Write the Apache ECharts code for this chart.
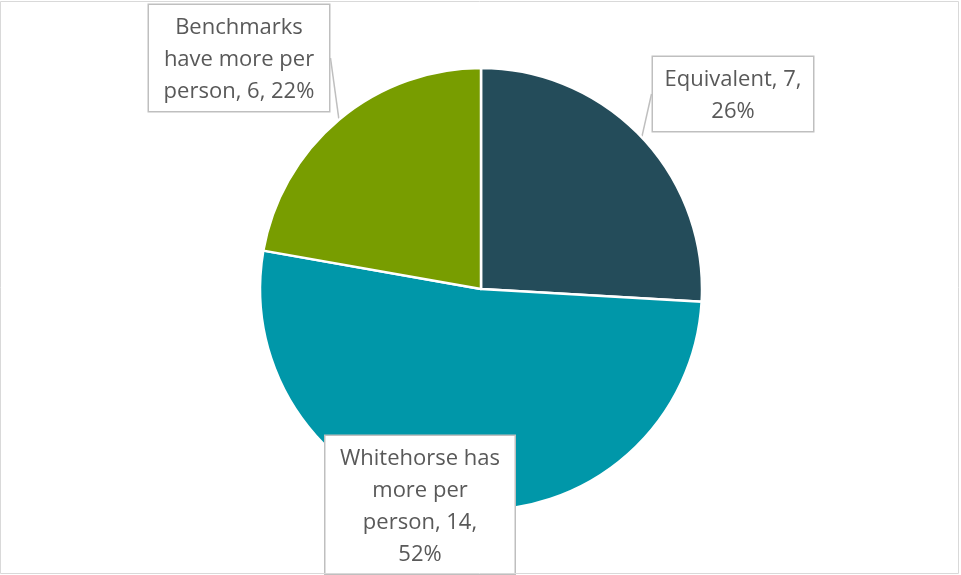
<!DOCTYPE html>
<html>
<head>
<meta charset="utf-8">
<script src="https://cdn.jsdelivr.net/npm/echarts@6/dist/echarts.min.js"></script>
<style>
  html, body { margin: 0; padding: 0; background: #fff; }
  #chart { width: 961px; height: 575px; }
</style>
</head>
<body>
<div id="chart"></div>
<script>
// Comparison of per-person counts: Whitehorse vs. benchmark communities
const categories = ['Equivalent', 'Whitehorse has more per person', 'Benchmarks have more per person'];
const counts = [7, 14, 6];
const sliceColors = ['#244C5A', '#0097A9', '#789D00'];

// Callout boxes: top-centre anchor, inner text width, and words per wrapped line
const calloutPlacement = [
  { x: 733, y: 57, width: 150, wordsPerLine: [2, 1], line: true },
  { x: 420, y: 436, width: 179, wordsPerLine: [2, 2, 2, 1], line: false },
  { x: 239, y: 5, width: 170, wordsPerLine: [1, 3, 3], line: true }
];

function wrapWords(text, counts) {
  const words = text.split(' ');
  const lines = [];
  let k = 0;
  counts.forEach(n => { lines.push(words.slice(k, k + n).join(' ')); k += n; });
  if (k < words.length) lines.push(words.slice(k).join(' '));
  return lines.join('\n');
}

const chart = echarts.init(document.getElementById('chart'), null, { renderer: 'canvas' });

const data = categories.map((name, i) => ({
  name: name,
  value: counts[i],
  itemStyle: { color: sliceColors[i] },
  labelLine: { show: calloutPlacement[i].line },
  label: { width: calloutPlacement[i].width }
}));

chart.setOption({
  animation: false,
  backgroundColor: '#fff',
  graphic: [{
    type: 'rect',
    silent: true,
    z: 100,
    shape: { x: 0.5, y: 1.5, width: 958, height: 572 },
    style: { fill: 'none', stroke: '#d9d9d9', lineWidth: 1 }
  }],
  series: [{
    type: 'pie',
    center: [481, 289],
    radius: 221,
    startAngle: 90,
    clockwise: true,
    percentPrecision: 0,
    avoidLabelOverlap: false,
    itemStyle: { borderColor: '#fff', borderWidth: 2.5 },
    label: {
      show: true,
      position: 'outside',
      formatter: function (p) {
        const text = p.name + ', ' + p.value + ', ' + p.percent + '%';
        return wrapWords(text, calloutPlacement[p.dataIndex].wordsPerLine);
      },
      fontFamily: '"Open Sans", Lato, sans-serif',
      fontSize: 22,
      lineHeight: 32,
      color: '#595959',
      align: 'center',
      backgroundColor: '#fff',
      borderColor: '#bfbfbf',
      borderWidth: 1.5,
      padding: [7, 5, 3, 5]
    },
    labelLine: {
      show: true,
      length: 6,
      length2: 0,
      lineStyle: { color: '#bfbfbf', width: 1.5 }
    },
    labelLayout: function (params) {
      const p = calloutPlacement[params.dataIndex];
      return { x: p.x, y: p.y, align: 'center', verticalAlign: 'top' };
    },
    emphasis: { disabled: true },
    data: data
  }]
});
</script>
</body>
</html>
